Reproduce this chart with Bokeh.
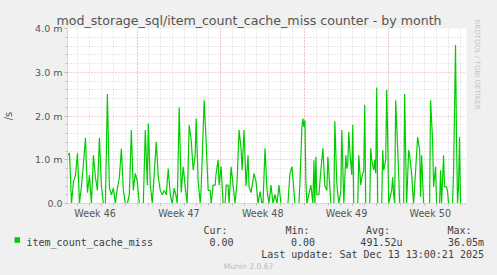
from bokeh.plotting import figure
from bokeh.models import Range1d, FixedTicker, Grid, Label, BoxAnnotation, LinearAxis, Title
from bokeh.embed import file_html
from bokeh.resources import INLINE

# ---- data (hours since left edge of the month window, value in milli-units /s)
hours = [0, 4, 8, 12, 16, 20, 24, 28, 32, 36, 40, 44, 48, 52, 56, 60, 64, 68, 72, 76,
         80, 84, 88, 92, 96, 100, 104, 108, 112, 116, 120, 124, 128, 132, 136, 140, 144, 148, 152, 156,
         160, 162, 166, 170, 174, 178, 182, 186, 190, 194, 198, 202, 206, 210, 214, 218, 220, 224, 228, 232,
         236, 240, 244, 248, 252, 256, 258, 262, 266, 268, 274, 278, 282, 286, 288, 292, 296, 298, 302, 304,
         308, 312, 316, 318, 322, 324, 328, 332, 336, 340, 344, 348, 350, 354, 358, 362, 364, 368, 374, 378,
         382, 386, 390, 392, 396, 400, 404, 408, 412, 416, 420, 424, 428, 442, 446, 450, 454, 456, 464, 466,
         470, 472, 474, 476, 478, 480, 488, 492, 494, 496, 498, 500, 504, 508, 512, 516, 520, 522, 526, 528,
         534, 536, 540, 544, 548, 550, 554, 558, 560, 562, 564, 566, 570, 572, 574, 582, 584, 588, 590, 594,
         596, 598, 606, 608, 610, 614, 616, 618, 620, 622, 630, 632, 634, 638, 640, 642, 644, 650, 652, 654,
         656, 658, 662, 664, 666, 674, 676, 678, 680, 684, 686, 690, 692, 694, 698, 702, 706, 708, 710, 714,
         726, 728, 732, 734, 738, 740, 746, 748, 750, 754, 756, 760, 762, 764, 772, 774, 778, 780, 782, 784,
         786, 788, 800]
values = [1.1, 1.15, 0, 0.5, 0.65, 1.15, 0, 0.4, 0.9, 1.5, 0.25, 0.65, 0, 1.1, 0.6, 0.3, 1.5, 0.4, 0, 0,
          2.5, 0.35, 0.2, 0.35, 0, 0.35, 0.6, 1.25, 0.3, 0, 0, 0.2, 1.68, 0.3, 0.69, 0.5, 0, 0, 0, 1.68,
          0.42, 1.83, 0.42, 0, 0.7, 1.41, 0.6, 0.3, 0.2, 0.3, 0.2, 0.8, 0.2, 0, 0.35, 0.15, 0, 2.2, 0.25, 0.84,
          0.38, 0, 1.79, 1.45, 0.76, 1.1, 1.94, 0.5, 0, 0.35, 2.36, 1.41, 0.3, 0.3, 0, 0.42, 0.42, 0.69, 1.0, 0.42,
          0.85, 0, 0, 0.42, 0.42, 0, 0.84, 0.42, 0, 0.5, 1.68, 1.26, 0.76, 1.68, 0.4, 1.1, 0.38, 0.25, 0.69, 0.5,
          0, 0.27, 0, 0, 1.26, 0.3, 0, 0.42, 0, 0.2, 0, 0.42, 0, 0, 0.69, 0.84, 0.3, 0, 0, 0.46,
          1.75, 1.94, 1.75, 1.9, 0.5, 0, 0.42, 0, 0.99, 0, 1.07, 0.2, 0.2, 0.76, 1.26, 0.4, 0.3, 1.07, 0.38, 0,
          0, 1.88, 0.45, 0, 0.27, 1.68, 0, 1.1, 0.8, 0.9, 1.64, 1.22, 0.65, 1.8, 0, 0, 1.1, 0.42, 0.6, 0.76,
          2.25, 0, 0, 1.26, 1.0, 0.76, 1.0, 0.69, 2.65, 0, 0, 1.22, 0.76, 1.0, 2.6, 1.5, 0, 0.3, 0.6, 0.2,
          0, 2.36, 1.26, 0.65, 0, 0, 2.5, 1.14, 0, 1.22, 1.1, 0.69, 0.3, 0, 0.76, 1.52, 1.22, 0.15, 1.1, 0,
          0, 2.36, 1.45, 0.38, 0.84, 0, 0, 0.76, 0, 1.1, 0.38, 0.38, 0.27, 0, 0, 0.69, 3.62, 1.45, 0, 0.38,
          1.52, 0, 0]
assert len(hours) == len(values)

week_labels = ["Week 46", "Week 47", "Week 48", "Week 49", "Week 50"]
week_label_pos = [55.4, 223.4, 391.4, 559.4, 727.4]
week_starts = [139.4, 307.4, 475.4, 643.4]
y_ticks = [0, 1, 2, 3, 4]
y_tick_labels = ["0.0", "1.0 m", "2.0 m", "3.0 m", "4.0 m"]

series_name = "item_count_cache_miss"
stat_heads = ["Cur:", "Min:", "Avg:", "Max:"]
stat_vals = ["0.00", "0.00", "491.52u", "36.05m"]
title_txt = "mod_storage_sql/item_count_cache_miss counter - by month"
update_txt = "Last update: Sat Dec 13 13:00:21 2025"
footer_txt = "Munin 2.0.67"
watermark_txt = "RRDTOOL / TOBI OETIKER"

X0, X1 = 0, 800
day_lines = [139.4 + 24 * k for k in range(-5, 28)]
minor_y = [0.2 * k for k in range(1, 20) if k % 5]

AXIS_C = "#cfd6f8"
TXT_C = "#555555"
LEG_C = "#404040"
BG = "#f0f0f0"
W = 497
MAIN_H = 222
FRAME_BOTTOM = 203

p = figure(width=W, height=MAIN_H, output_backend="svg", toolbar_location=None,
           x_range=Range1d(X0, X1), y_range=Range1d(0, 4.0),
           min_border_left=66, min_border_right=31, min_border_top=28,
           min_border_bottom=MAIN_H - FRAME_BOTTOM,
           x_axis_location=None, y_axis_location=None)
p.background_fill_color = "white"
p.border_fill_color = BG
p.outline_line_color = None
p.xgrid.visible = False
p.ygrid.visible = False

# title (above panel)
p.title.text = title_txt
p.title.align = "left"
p.title.offset = -11
p.title.standoff = 2
p.title.text_font = "DejaVu Sans"
p.title.text_font_size = "12.6px"
p.title.text_font_style = "normal"
p.title.text_color = TXT_C

# watermark on the right side
p.add_layout(Title(text=watermark_txt, align="left", text_font="DejaVu Sans",
                   text_font_size="7px", text_font_style="normal", text_color="#c4c4c4",
                   standoff=12, offset=-9), "right")

# grids
p.add_layout(Grid(dimension=0, ticker=FixedTicker(ticks=day_lines),
                  grid_line_color="#d4d4d4", grid_line_dash="1 2", grid_line_width=1))
p.add_layout(Grid(dimension=1, ticker=FixedTicker(ticks=minor_y),
                  grid_line_color="#d4d4d4", grid_line_dash="1 2", grid_line_width=1))
p.add_layout(Grid(dimension=0, ticker=FixedTicker(ticks=week_starts),
                  grid_line_color="#e8a0a0", grid_line_dash="1 2", grid_line_width=1))
p.add_layout(Grid(dimension=1, ticker=FixedTicker(ticks=y_ticks),
                  grid_line_color="#e8a0a0", grid_line_dash="1 2", grid_line_width=1))

# axes
xa = LinearAxis(ticker=FixedTicker(ticks=week_label_pos, minor_ticks=day_lines),
                major_label_overrides={k: v for k, v in zip(week_label_pos, week_labels)})
xa.axis_line_color = AXIS_C
xa.major_tick_line_color = None
xa.major_tick_out = 2
xa.major_tick_in = 0
xa.minor_tick_line_color = "#bbbbbb"
xa.minor_tick_out = 2
xa.minor_tick_in = 0
xa.major_label_standoff = 2
xa.major_label_text_font = "DejaVu Sans"
xa.major_label_text_font_size = "9.6px"
xa.major_label_text_color = TXT_C
p.add_layout(xa, "below")

ya = LinearAxis(ticker=FixedTicker(ticks=y_ticks, minor_ticks=minor_y),
                major_label_overrides={k: v for k, v in zip(y_ticks, y_tick_labels)},
                axis_label="/s")
ya.axis_line_color = AXIS_C
ya.major_tick_line_color = "#bbbbbb"
ya.major_tick_out = 3
ya.major_tick_in = 0
ya.minor_tick_line_color = "#bbbbbb"
ya.minor_tick_out = 2
ya.minor_tick_in = 0
ya.major_label_standoff = 2
ya.major_label_text_font = "DejaVu Sans"
ya.major_label_text_font_size = "9.5px"
ya.major_label_text_color = TXT_C
ya.axis_label_text_font = "DejaVu Sans"
ya.axis_label_text_font_size = "10px"
ya.axis_label_text_font_style = "normal"
ya.axis_label_text_color = TXT_C
ya.axis_label_standoff = 18
p.add_layout(ya, "left")

# data line
p.line(hours, values, line_color="#00cc00", line_width=1.2)

# ---- legend / footer strip (coordinates = canvas pixels), separate root
LEG_H = 275 - MAIN_H
q = figure(width=W, height=LEG_H, output_backend="svg", toolbar_location=None,
           x_range=Range1d(0, W), y_range=Range1d(275, MAIN_H),
           min_border=0, min_border_left=0, min_border_right=0,
           min_border_top=0, min_border_bottom=0,
           x_axis_location=None, y_axis_location=None)
q.background_fill_color = BG
q.border_fill_color = BG
q.outline_line_color = None
q.xgrid.visible = False
q.ygrid.visible = False


def lab(cx, cy, text, size, color, font="DejaVu Sans Mono", align="left"):
    q.add_layout(Label(x=cx, y=cy, text=text, text_font=font, text_font_size=size,
                       text_color=color, text_align=align, text_baseline="alphabetic"))


q.add_layout(BoxAnnotation(left=14, right=19.5, bottom=242.2, top=236.8,
                           fill_color="#00cc00", fill_alpha=1.0, line_color=None))
lab(26, 241.5, series_name, "10px", LEG_C)
for hx, txt in zip([203, 285, 365.5, 447], stat_heads):
    lab(hx, 229.5, txt, "10px", LEG_C)
for vx, txt in zip([233, 314.5, 402, 483.5], stat_vals):
    lab(vx, 241.5, txt, "10px", LEG_C, align="right")
lab(483.5, 253.5, update_txt, "10px", LEG_C, align="right")
lab(248, 265.5, footer_txt, "7.6px", "#bbbbbb", font="DejaVu Sans", align="center")

html = file_html([p, q], INLINE)
html = html.replace("<head>", "<head><style>html,body{margin:0;padding:0;background:#f0f0f0;}"
                    "body>div{display:block;margin:0;padding:0;}</style>", 1)
open("out.html", "w").write(html)
